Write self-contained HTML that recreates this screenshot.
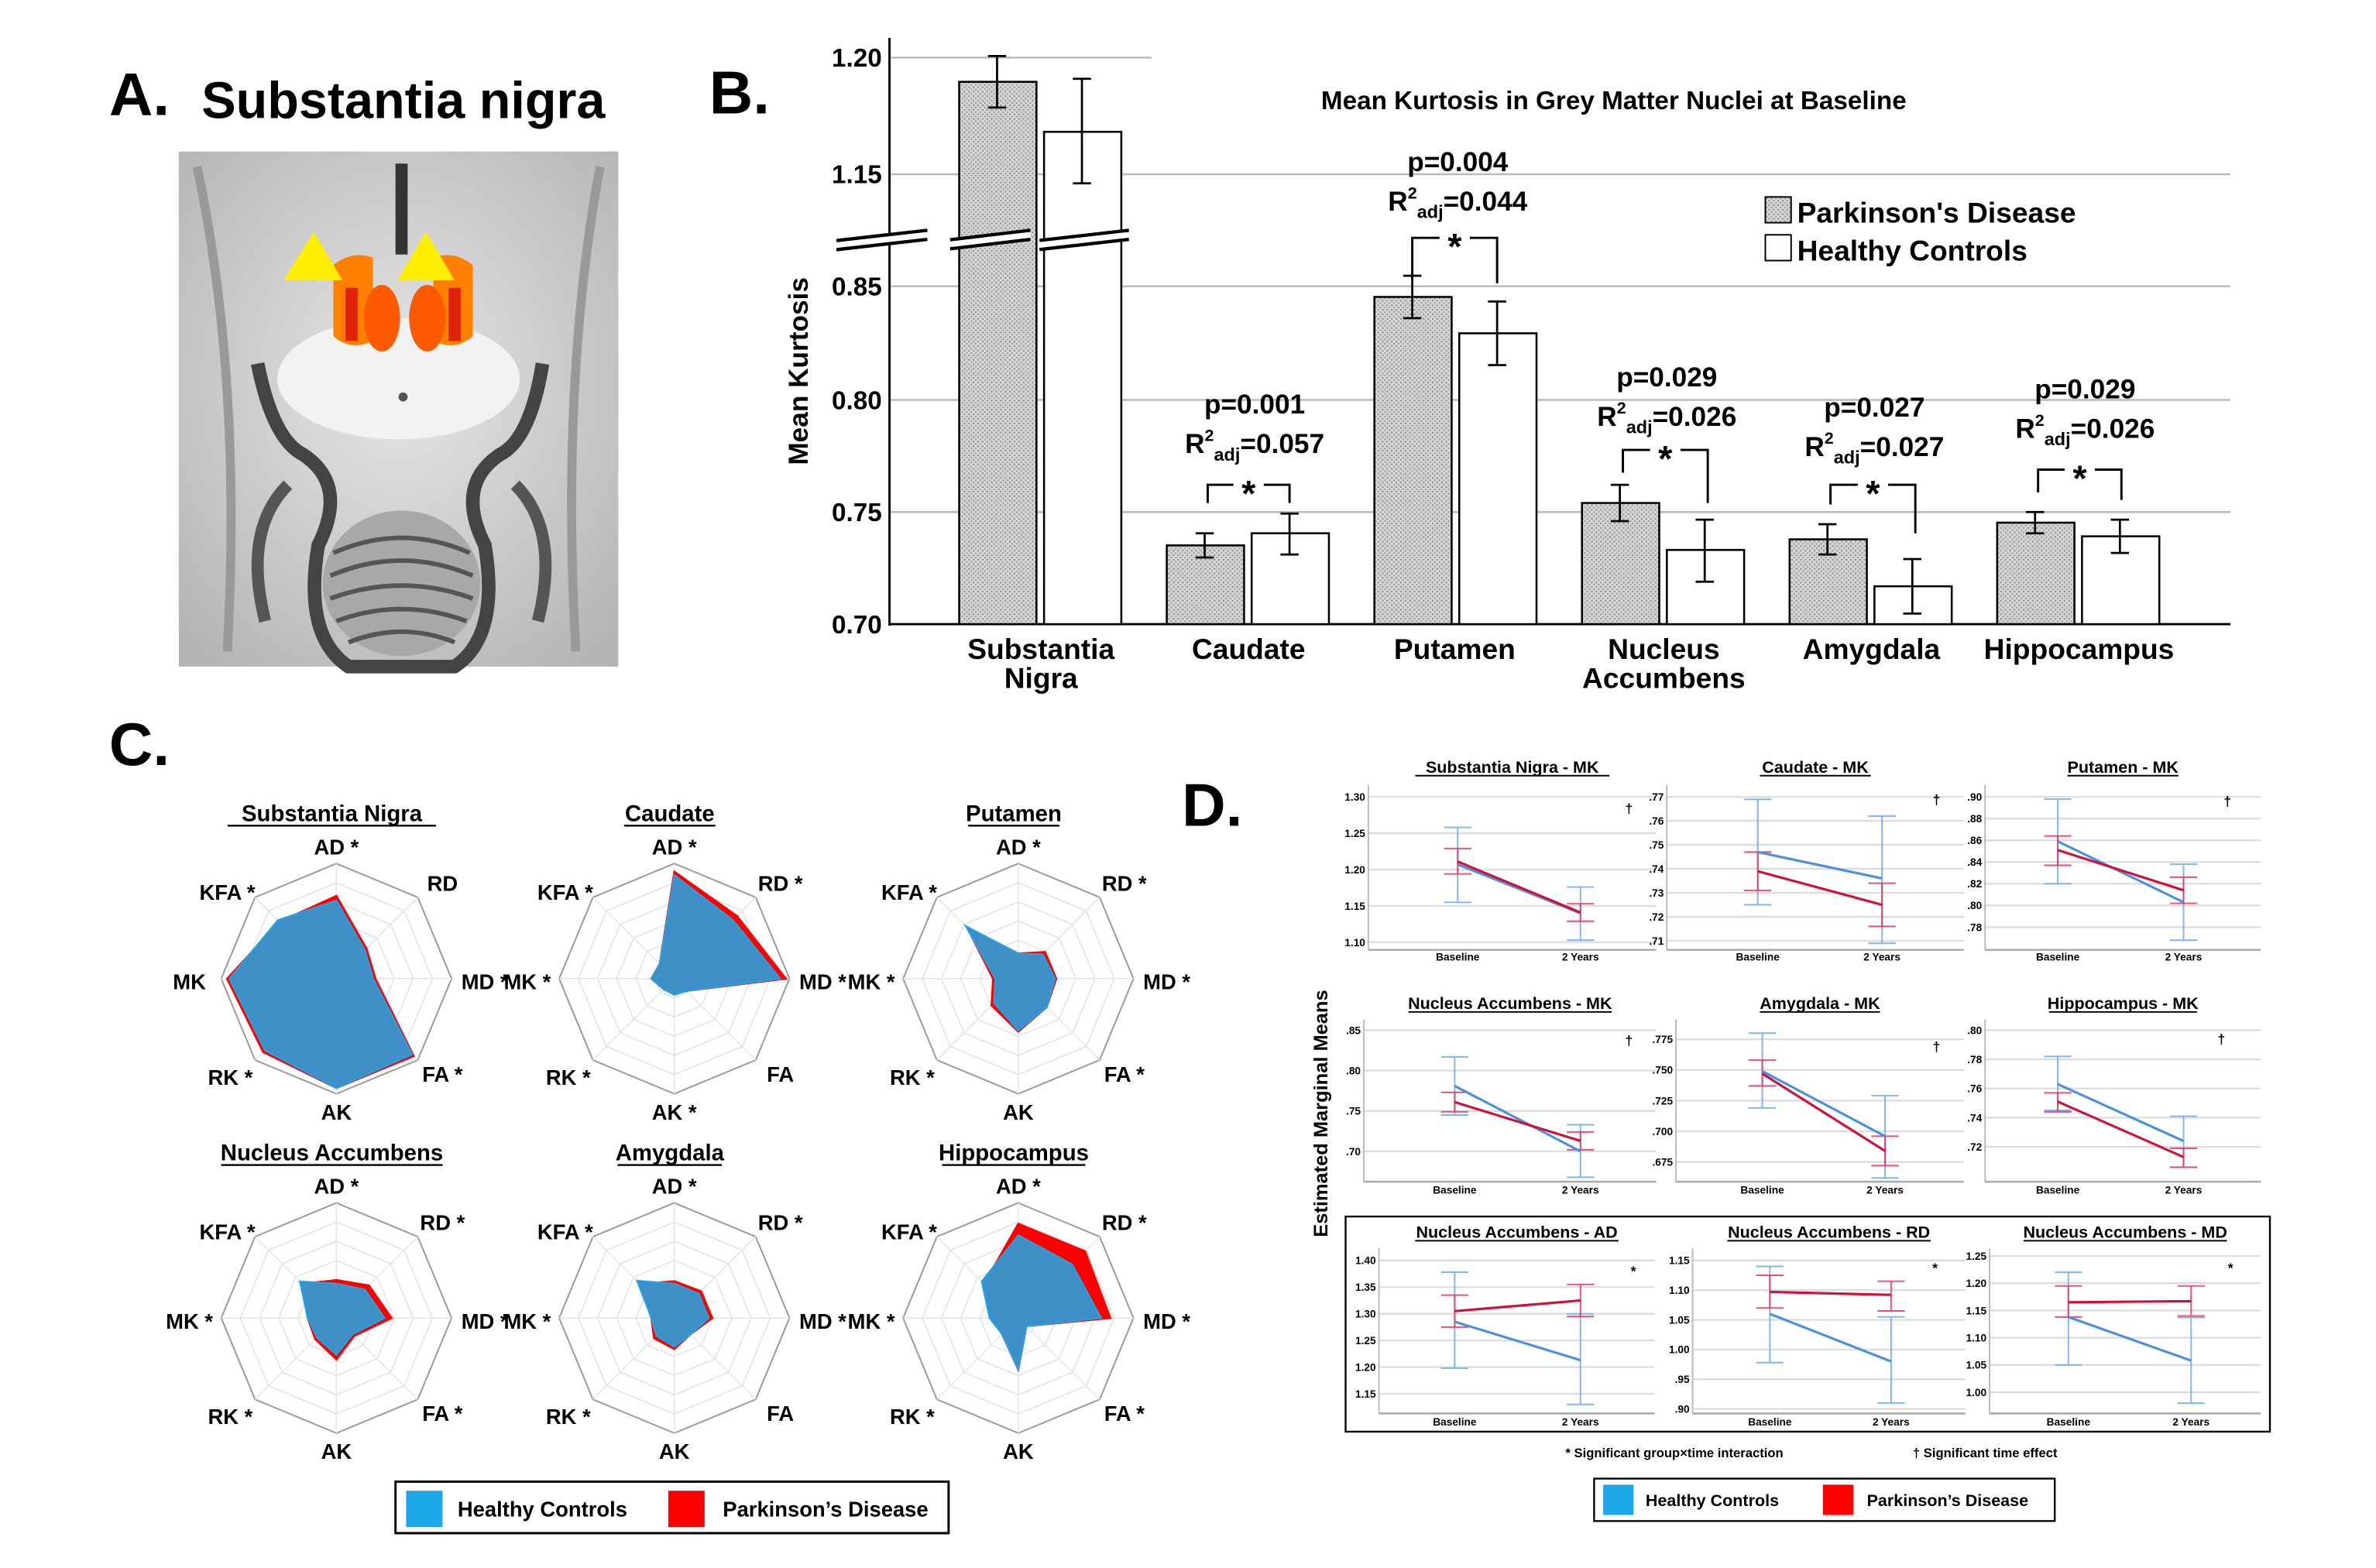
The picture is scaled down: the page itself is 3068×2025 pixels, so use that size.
<!DOCTYPE html>
<html><head><meta charset="utf-8"><style>
html,body{margin:0;padding:0;background:#fff}
svg{display:block}
text{font-family:"Liberation Sans",Arial,sans-serif;font-weight:bold;fill:#000}
</style></head><body>
<svg id="s" width="3068" height="2025" viewBox="0 0 1568 1035" preserveAspectRatio="none" xmlns="http://www.w3.org/2000/svg">
<defs>
<pattern id="hatch" width="3" height="3" patternUnits="userSpaceOnUse">
<rect width="3" height="3" fill="#d4d4d4"/><rect width="1" height="1" fill="#8a8a8a"/><rect x="1.5" y="1.5" width="1" height="1" fill="#9a9a9a"/>
</pattern>
<radialGradient id="bg" cx="0.5" cy="0.45" r="0.7"><stop offset="0" stop-color="#e6e6e6"/><stop offset="1" stop-color="#b4b4b4"/></radialGradient>
</defs>
<!-- Panel A -->
<text x="72" y="76" font-size="40">A.</text>
<text x="133" y="78" font-size="34">Substantia nigra</text>
<rect x="118" y="100" width="290" height="340" fill="url(#bg)"/>
<path d="M130,110 Q160,250 150,430" stroke="#999" stroke-width="6" fill="none"/>
<path d="M396,110 Q370,250 380,430" stroke="#999" stroke-width="6" fill="none"/>
<ellipse cx="263" cy="250" rx="80" ry="40" fill="#f2f2f2"/>
<path d="M170,240 Q180,290 200,300 Q230,320 210,360 Q200,420 230,440 L300,440 Q330,420 320,360 Q300,320 330,300 Q350,290 358,240" stroke="#444" stroke-width="9" fill="none"/>
<path d="M190,320 Q160,350 175,410" stroke="#555" stroke-width="8" fill="none"/>
<path d="M340,320 Q370,350 355,410" stroke="#555" stroke-width="8" fill="none"/>
<ellipse cx="265" cy="385" rx="52" ry="48" fill="#a8a8a8"/>
<path d="M220,365 Q265,345 310,365 M218,380 Q265,360 312,380 M218,395 Q265,378 312,395 M222,410 Q265,394 308,410 M230,424 Q265,410 300,424" stroke="#555" stroke-width="3" fill="none"/>
<rect x="261" y="108" width="8" height="60" fill="#333"/>
<circle cx="266" cy="262" r="3" fill="#555"/>
<path d="M220,175 Q232,165 246,170 L246,225 Q232,232 220,222Z" fill="#ff7f00"/>
<path d="M286,170 Q300,165 312,175 L312,222 Q300,232 286,225Z" fill="#ff7f00"/>
<ellipse cx="252" cy="210" rx="12" ry="22" fill="#ff5a00"/>
<ellipse cx="282" cy="210" rx="12" ry="22" fill="#ff5a00"/>
<path d="M228,190 L236,190 L236,225 L228,225Z" fill="#e0200a"/>
<path d="M296,190 L304,190 L304,225 L296,225Z" fill="#e0200a"/>
<polygon points="187,185 207,153 226,185" fill="#ffee00"/>
<polygon points="262,185 281,153 300,185" fill="#ffee00"/>
<!-- Panel B -->
<text x="468" y="75" font-size="40">B.</text>
<g id="B"></g>
<!-- Panel C -->
<text x="72" y="505" font-size="40">C.</text>
<g id="C"></g>
<rect x="261" y="978" width="365" height="34" fill="none" stroke="#000" stroke-width="1.5"/>
<rect x="268" y="984" width="24" height="24" fill="#1ea7e8"/>
<text x="302" y="1001" font-size="14">Healthy Controls</text>
<rect x="441" y="984" width="24" height="24" fill="#f00"/>
<text x="477" y="1001" font-size="14">Parkinson’s Disease</text>
<!-- Panel D -->
<text x="780" y="545" font-size="40">D.</text>
<g id="D"></g>
<rect x="888" y="803" width="610" height="142" fill="none" stroke="#000" stroke-width="1.2"/>
<text x="876" y="735" font-size="13" text-anchor="middle" transform="rotate(-90 876 735)">Estimated Marginal Means</text>
<text x="1105" y="962" font-size="8.5" text-anchor="middle">* Significant group×time interaction</text>
<text x="1310" y="962" font-size="8.5" text-anchor="middle">† Significant time effect</text>
<rect x="1052" y="976" width="304" height="28" fill="none" stroke="#000" stroke-width="1.2"/>
<rect x="1058" y="980" width="20" height="20" fill="#1ea7e8"/>
<text x="1086" y="994" font-size="11">Healthy Controls</text>
<rect x="1203" y="980" width="20" height="20" fill="#f00"/>
<text x="1232" y="994" font-size="11">Parkinson’s Disease</text>
</svg>
<script>
const NS="http://www.w3.org/2000/svg";
function el(p,t,a,txt){const e=document.createElementNS(NS,t);for(const k in a)e.setAttribute(k,a[k]);if(txt!==undefined)e.textContent=txt;p.appendChild(e);return e;}
// ---- B
const B=document.getElementById('B');
const ticks=[[1.20,38],[1.15,115],[0.85,189],[0.80,264],[0.75,338],[0.70,412]];
ticks.forEach(([v,y],i)=>{ if(i<5) el(B,'line',{x1:587,x2:i==0?760:1472,y1:y,y2:y,stroke:'#bbb','stroke-width':1.3});
 el(B,'text',{x:582,y:y+6,'font-size':17,'text-anchor':'end'},v.toFixed(2));});
el(B,'line',{x1:587,x2:587,y1:25,y2:413,stroke:'#000','stroke-width':1.5});
el(B,'line',{x1:587,x2:1472,y1:412,y2:412,stroke:'#000','stroke-width':1.5});
const bars=[[633,54,658,37,71,1],[689,87,714,52,121,0],[770,360,795,352,368,1],[826,352,851,339,366,0],[907,196,932,182,210,1],[963,220,988,199,241,0],[1044,332,1069,320,344,1],[1100,363,1125,343,384,0],[1181,356,1206,346,366,1],[1237,387,1262,369,405,0],[1318,345,1343,338,352,1],[1374,354,1399,343,365,0]];
bars.forEach(b=>{el(B,'rect',{x:b[0],y:b[1],width:51,height:412-b[1],fill:b[5]?'url(#hatch)':'#fff',stroke:'#000','stroke-width':1.3});
 el(B,'path',{d:`M${b[2]},${b[3]}V${b[4]}M${b[2]-6},${b[3]}h12M${b[2]-6},${b[4]}h12`,stroke:'#000','stroke-width':1.4,fill:'none'});});
// breaks
[[552,612],[627,680],[686,745]].forEach(([a,c])=>{const d=(c-a)*0.08;
 el(B,'polygon',{points:`${a},${154+d} ${c},152 ${c},158 ${a},${160+d}`,fill:'#fff'});
 el(B,'line',{x1:a,y1:154+d,x2:c,y2:152,stroke:'#000','stroke-width':2.2});el(B,'line',{x1:a,y1:160+d,x2:c,y2:158,stroke:'#000','stroke-width':2.2});});
el(B,'text',{x:1065,y:72,'font-size':17,'text-anchor':'middle'},'Mean Kurtosis in Grey Matter Nuclei at Baseline');
el(B,'text',{x:533,y:245,'font-size':18,'text-anchor':'middle',transform:'rotate(-90 533 245)'},'Mean Kurtosis');
[['Substantia',687,435],['Nigra',687,454],['Caudate',824,435],['Putamen',960,435],['Nucleus',1098,435],['Accumbens',1098,454],['Amygdala',1235,435],['Hippocampus',1372,435]].forEach(l=>el(B,'text',{x:l[1],y:l[2],'font-size':19,'text-anchor':'middle'},l[0]));
const ann=[[962,113,'0.004','0.044',932,988,157,185,187],[828,273,'0.001','0.057',797,851,320,332,332],[1100,255,'0.029','0.026',1071,1127,297,312,332],[1237,275,'0.027','0.027',1208,1264,320,333,352],[1376,263,'0.029','0.026',1345,1400,310,325,330]];
ann.forEach(a=>{el(B,'text',{x:a[0],y:a[1],'font-size':18,'text-anchor':'middle'},'p='+a[2]);
 const t=el(B,'text',{x:a[0],y:a[1]+26,'font-size':18,'text-anchor':'middle'});
 t.innerHTML=`R<tspan font-size="11" dy="-8">2</tspan><tspan font-size="12" dy="13">adj</tspan><tspan dy="-5">=${a[3]}</tspan>`;
 el(B,'path',{d:`M${a[4]},${a[7]}V${a[6]}H${a[5]}V${a[8]}`,stroke:'#000','stroke-width':1.5,fill:'none'});
 el(B,'rect',{x:(a[4]+a[5])/2-10,y:a[6]-3,width:20,height:6,fill:'#fff'});
 el(B,'text',{x:(a[4]+a[5])/2,y:a[6]+14,'font-size':24,'text-anchor':'middle'},'*');});
el(B,'rect',{x:1165,y:130,width:17,height:17,fill:'url(#hatch)',stroke:'#000'});
el(B,'rect',{x:1165,y:155,width:17,height:17,fill:'#fff',stroke:'#000'});
el(B,'text',{x:1186,y:147,'font-size':19},"Parkinson's Disease");
el(B,'text',{x:1186,y:172,'font-size':19},'Healthy Controls');
// ---- C
const C=document.getElementById('C');
const R=76;
const rad=[
['Substantia Nigra',222,646,['AD *','RD','MD *','FA *','AK','RK *','MK','KFA *'],[.68,.35,.32,.93,.95,.88,.93,.72],[.72,.37,.34,.95,.95,.9,.95,.7]],
['Caudate',445,646,['AD *','RD *','MD *','FA','AK *','RK *','MK *','KFA *'],[.9,.72,.92,.15,.14,.13,.2,.18],[.93,.77,.97,.15,.14,.13,.2,.18]],
['Putamen',672,646,['AD *','RD *','MD *','FA *','AK','RK *','MK *','KFA *'],[.22,.3,.32,.35,.45,.3,.2,.65],[.22,.33,.33,.35,.46,.33,.22,.63]],
['Nucleus Accumbens',222,870,['AD *','RD *','MD *','FA *','AK','RK *','MK *','KFA *'],[.3,.35,.42,.2,.32,.24,.25,.45],[.33,.4,.48,.22,.36,.26,.25,.42]],
['Amygdala',445,870,['AD *','RD *','MD *','FA','AK','RK *','MK *','KFA *'],[.3,.3,.3,.2,.25,.22,.2,.46],[.32,.33,.33,.2,.27,.25,.2,.42]],
['Hippocampus',672,870,['AD *','RD *','MD *','FA *','AK','RK *','MK *','KFA *'],[.72,.66,.72,.1,.45,.2,.25,.45],[.82,.82,.8,.1,.45,.2,.22,.42]]];
const lo=[[0,-82,'middle'],[70,-58,'middle'],[98,7,'middle'],[70,68,'middle'],[0,93,'middle'],[-70,70,'middle'],[-97,7,'middle'],[-72,-52,'middle']];
function pts(cx,cy,rs){return rs.map((r,i)=>{const a=-Math.PI/2+i*Math.PI/4;return (cx+R*r*Math.cos(a)).toFixed(1)+','+(cy+R*r*Math.sin(a)).toFixed(1)}).join(' ');}
rad.forEach(r=>{const [n,cx,cy,labs,hc,pd]=r;
 for(let k=1;k<=6;k++) el(C,'polygon',{points:pts(cx,cy,Array(8).fill(k/6)),fill:'none',stroke:k==6?'#999':'#e2e2e2','stroke-width':k==6?1:0.8});
 for(let i=0;i<8;i++){const a=-Math.PI/2+i*Math.PI/4;el(C,'line',{x1:cx,y1:cy,x2:cx+R*Math.cos(a),y2:cy+R*Math.sin(a),stroke:'#e6e6e6','stroke-width':.8});}
 el(C,'polygon',{points:pts(cx,cy,pd),fill:'#f00',stroke:'#f00','stroke-width':1.2});
 el(C,'polygon',{points:pts(cx,cy,hc),fill:'#3d8fc6',stroke:'#1ea7e8','stroke-width':1});
 labs.forEach((l,i)=>el(C,'text',{x:cx+lo[i][0],y:cy+lo[i][1],'font-size':14,'text-anchor':lo[i][2]},l));
 el(C,'text',{x:cx-3,y:cy-104,'font-size':15,'text-anchor':'middle'},n);
 el(C,'line',{x1:cx-3-n.length*4.3,x2:cx-3+n.length*4.3,y1:cy-101,y2:cy-101,stroke:'#000','stroke-width':1.2});});
// ---- D
const D=document.getElementById('D');
const plots=[
['Substantia Nigra - MK',903,1093,962,1043,518,627,510,634,['1.30','1.25','1.20','1.15','1.10'],1.30,1.10,526,622,[1.207,1.155,1.258,1.14,1.103,1.176],[1.211,1.194,1.229,1.141,1.129,1.153],'†',1075,537],
['Caudate - MK',1100,1296,1160,1242,518,627,510,634,['.77','.76','.75','.74','.73','.72','.71'],.77,.71,526,621,[.747,.725,.769,.736,.709,.762],[.739,.731,.747,.725,.716,.734],'†',1278,531],
['Putamen - MK',1310,1492,1358,1441,518,627,510,634,['.90','.88','.86','.84','.82','.80','.78'],.90,.78,526,612,[.859,.820,.898,.803,.768,.838],[.851,.837,.864,.814,.802,.826],'†',1470,532],
['Nucleus Accumbens - MK',900,1093,960,1043,673,780,666,788,['.85','.80','.75','.70'],.85,.70,680,760,[.781,.745,.817,.700,.668,.733],[.761,.749,.773,.713,.702,.724],'†',1075,690],
['Amygdala - MK',1106,1296,1163,1244,673,780,666,788,['.775','.750','.725','.700','.675'],.775,.675,686,767,[.749,.719,.780,.696,.662,.729],[.747,.737,.758,.684,.672,.696],'†',1278,694],
['Hippocampus - MK',1310,1492,1358,1441,673,780,666,788,['.80','.78','.76','.74','.72'],.80,.72,680,757,[.763,.745,.782,.724,.706,.741],[.751,.744,.757,.713,.706,.719],'†',1466,689],
['Nucleus Accumbens - AD',910,1092,960,1043,824,933,817,941,['1.40','1.35','1.30','1.25','1.20','1.15'],1.40,1.15,832,920,[1.285,1.198,1.378,1.213,1.13,1.30],[1.305,1.275,1.335,1.325,1.295,1.355],'*',1078,842],
['Nucleus Accumbens - RD',1117,1297,1168,1248,824,933,817,941,['1.15','1.10','1.05','1.00','.95','.90'],1.15,.90,832,930,[1.06,.978,1.14,.98,.91,1.055],[1.097,1.07,1.125,1.092,1.065,1.115],'*',1277,840],
['Nucleus Accumbens - MD',1313,1492,1365,1446,824,933,817,941,['1.25','1.20','1.15','1.10','1.05','1.00'],1.25,1.00,829,919,[1.138,1.05,1.22,1.058,.98,1.137],[1.165,1.138,1.195,1.167,1.14,1.195],'*',1472,840]];
plots.forEach(p=>{const [n,x0,x1,bx,tx,yt,yb,ty,ly,tl,vmax,vmin,y0,y1,hc,pd,mk,mx,my]=p;
 const Y=v=>y0+(vmax-v)/(vmax-vmin)*(y1-y0);
 tl.forEach((t,i)=>{const y=y0+i*(y1-y0)/(tl.length-1);el(D,'line',{x1:x0,x2:x1,y1:y,y2:y,stroke:'#ddd','stroke-width':1.2});el(D,'text',{x:x0-2,y:y+2.5,'font-size':7,'text-anchor':'end'},t);});
 el(D,'line',{x1:x0,x2:x0,y1:yt,y2:yb,stroke:'#bbb','stroke-width':1});
 el(D,'line',{x1:x0,x2:x1,y1:yb,y2:yb,stroke:'#aaa','stroke-width':1.3});
 el(D,'text',{x:bx,y:ly,'font-size':7,'text-anchor':'middle'},'Baseline');
 el(D,'text',{x:tx,y:ly,'font-size':7,'text-anchor':'middle'},'2 Years');
 el(D,'text',{x:(x0+x1)/2,y:ty,'font-size':11,'text-anchor':'middle'},n);
 el(D,'line',{x1:(x0+x1)/2-n.length*3.05,x2:(x0+x1)/2+n.length*3.05,y1:ty+2,y2:ty+2,stroke:'#000','stroke-width':1});
 el(D,'text',{x:mx,y:my,'font-size':9,'text-anchor':'middle'},mk);
 [[hc,'#6aa8f0'],[pd,'#e8305a']].forEach(([d,c])=>{
  [[bx,0],[tx,3]].forEach(([x,o])=>{el(D,'path',{d:`M${x},${Y(d[o+1])}V${Y(d[o+2])}M${x-9},${Y(d[o+1])}h18M${x-9},${Y(d[o+2])}h18`,stroke:c,'stroke-width':1,fill:'none','stroke-opacity':.85});});});
 [[hc,'#4a90e2'],[pd,'#d0103a']].forEach(([d,c])=>el(D,'line',{x1:bx,y1:Y(d[0]),x2:tx,y2:Y(d[3]),stroke:c,'stroke-width':1.6}));});
</script>
</body></html>
